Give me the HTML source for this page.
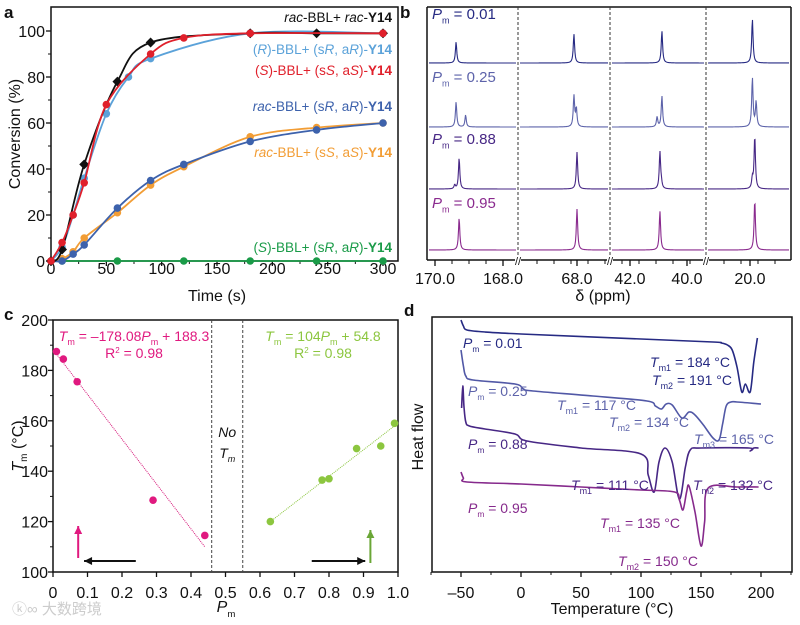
<!DOCTYPE html>
<html><head><meta charset="utf-8"><style>
body{margin:0;background:#fff}
svg{display:block;font-family:"Liberation Sans",Arial,sans-serif}
</style></head><body>
<svg id="fig" width="800" height="625" viewBox="0 0 800 625" xmlns="http://www.w3.org/2000/svg">
<g id="ga"></g>
<g id="gb"></g>
<g id="gc"></g>
<g id="gd"></g>
</svg>
<script>
// ---------- Panel a data ----------
const aTimes = {
  black:[0,10,30,60,90,180,240,300],
  lblue:[0,10,20,30,50,70,90,180,300],
  red:[0,10,20,30,50,90,120,180,300],
  blue:[0,10,20,30,60,90,120,180,240,300],
  orange:[0,10,20,30,60,90,120,180,240,300],
  green:[0,10,60,120,180,240,300]
};
const aBlack=[0,5,42,78,95,99,99,99];
const aLblue=[0,6,20,36,64,80,88,99,99];
const aRed=[0,8,20,34,68,90,97,99,99];
const aBlue=[0,0,3,7,23,35,42,52,57,60];
const aOrange=[0,1,4,10,21,33,41,54,58,60];
const aGreen=[0,0,0,0,0,0,0];
const aXTicks=[0,50,100,150,200,250,300];
const aYTicks=[0,20,40,60,80,100];
// ---------- Panel b data ----------
const bLabels=["P_m = 0.01","P_m = 0.25","P_m = 0.88","P_m = 0.95"];
const bPeakPpm=[[169.38,68.09,40.88,19.93],[169.38,68.09,40.88,19.93],[169.29,68.0,40.95,19.86],[169.29,68.0,40.95,19.86]];
const bPeakH=[[21,29,32,44],[25,31,31,49],[31,37,37,53],[32,41,39,50]];
const bShoulderPpm=[[],[169.1,68.02,41.05,19.82],[169.42,null,40.9,19.93],[]];
const bShoulderH=[[],[12,18,10,25],[4,0,5,10],[]];
const bTickLabels=["170.0","168.0","68.0","42.0","40.0","20.0"];
const bTickPpm=[[0,170.0],[0,168.0],[1,68.0],[2,42.0],[2,40.0],[3,20.0]];
// ---------- Panel c data ----------
const cPinkX=[0.01,0.03,0.07,0.29,0.44];
const cPinkY=[187.5,184.5,175.5,128.5,114.5];
const cGreenX=[0.63,0.78,0.80,0.88,0.95,0.99];
const cGreenY=[120,136.5,137,149,150,159];
const cPinkFitX=[0.01,0.44], cPinkFitY=[186.5,110];
const cGreenFitX=[0.63,0.99], cGreenFitY=[120,158];
const cXTicks=[0,0.1,0.2,0.3,0.4,0.5,0.6,0.7,0.8,0.9,1.0];
const cYTicks=[100,120,140,160,180,200];
// ---------- Panel d data (heat flow, arbitrary units, up = larger) ----------
const dT1=[-50,-48,-45,-30,0,100,160,167,172,176,180,184,187,191,194,197];
const dH1=[252,246,242,240,238,233,230,229,227,222,205,180,188,180,210,234];
const dT2=[-50,-48,-46,-40,-5,2,10,60,105,112,117,121,126,134,140,145,152,160,165,168,171,175,180,200];
const dH2=[222,206,196,192,188,183,181,176,171,166,163,168,167,154,160,157,147,134,132,148,166,170,170,168];
const dT3=[-49.5,-48.5,-47.5,-46,-43,-30,-5,5,50,100,106,111,115,120,126,132,137,141,150,190,191,194,198];
const dH3=[164,186,165,150,146,143,138,131,124,118,97,80,110,124,110,73,105,122,124,124,121,124,124];
const dT4=[-50,-48,-45,0,50,100,128,132,135,138,140,145,150,153,156,180,198];
const dH4=[100,94,90,88,85,82,80,72,62,80,86,60,26,50,84,85,85];
const dXTicks=[-50,0,50,100,150,200];
const dCurveColors=["#262a83","#5158a6","#472785","#862a8c"];

const NS="http://www.w3.org/2000/svg";
function mk(parent,tag,attrs,name,txt){
  const e=document.createElementNS(NS,tag);
  for(const k in attrs)e.setAttribute(k,attrs[k]);
  
  
  if(txt!==undefined)e.textContent=txt;
  parent.appendChild(e);return e;
}
function smooth(pts){
  let d="M"+pts[0][0].toFixed(1)+","+pts[0][1].toFixed(1);
  for(let i=0;i<pts.length-1;i++){
    const p0=pts[Math.max(0,i-1)],p1=pts[i],p2=pts[i+1],p3=pts[Math.min(pts.length-1,i+2)];
    const c1=[p1[0]+(p2[0]-p0[0])/6,p1[1]+(p2[1]-p0[1])/6];
    const c2=[p2[0]-(p3[0]-p1[0])/6,p2[1]-(p3[1]-p1[1])/6];
    d+="C"+c1[0].toFixed(1)+","+c1[1].toFixed(1)+" "+c2[0].toFixed(1)+","+c2[1].toFixed(1)+" "+p2[0].toFixed(1)+","+p2[1].toFixed(1);
  }
  return d;
}
function pmText(parent,x,y,txt,color,size,name,anchor){
  const t=mk(parent,'text',{x:x,y:y,fill:color,'font-size':size,'text-anchor':anchor||'start'},name);
  const parts=txt.split("_");
  const s1=document.createElementNS(NS,'tspan');s1.setAttribute('font-style','italic');s1.textContent=parts[0];t.appendChild(s1);
  const m=parts[1].match(/^(\S+)(.*)$/);
  const s2=document.createElementNS(NS,'tspan');s2.setAttribute('font-size',size*0.6);s2.setAttribute('dy',size*0.3);s2.textContent=m[1];t.appendChild(s2);
  const s3=document.createElementNS(NS,'tspan');s3.setAttribute('dy',-size*0.3);s3.textContent=m[2];t.appendChild(s3);
  return t;
}

// ================= Panel a =================
(function(){
  const g=document.getElementById('ga');
  const L=51,R=398,T=7,B=261;
  const xs=v=>L+v*(383-L)/300, ys=v=>B-v*(B-31)/100;
  mk(g,'rect',{x:L,y:T,width:R-L,height:B-T,fill:'none',stroke:'#111','stroke-width':1.5},'plot-frame-a');
  mk(g,'text',{x:4,y:18,'font-size':17,'font-weight':'bold',fill:'#111'},'panel-label-a','a');
  aXTicks.forEach(v=>{mk(g,'line',{x1:xs(v),x2:xs(v),y1:B,y2:B+5,stroke:'#111','stroke-width':1.3},'x-tick-a');
    mk(g,'text',{x:xs(v),y:274,'text-anchor':'middle','font-size':16,fill:'#111'},'x-tick-label-a',String(v));});
  aXTicks.slice(0,-1).forEach(v=>mk(g,'line',{x1:xs(v+25),x2:xs(v+25),y1:B,y2:B+3,stroke:'#111','stroke-width':1},'x-minor-tick-a'));
  aYTicks.forEach(v=>{mk(g,'line',{x1:L-5,x2:L,y1:ys(v),y2:ys(v),stroke:'#111','stroke-width':1.3},'y-tick-a');
    mk(g,'text',{x:45,y:ys(v)+6,'text-anchor':'end','font-size':16,fill:'#111'},'y-tick-label-a',String(v));});
  aYTicks.slice(0,-1).forEach(v=>mk(g,'line',{x1:L-3,x2:L,y1:ys(v+10),y2:ys(v+10),stroke:'#111','stroke-width':1},'y-minor-tick-a'));
  mk(g,'text',{x:217,y:301,'text-anchor':'middle','font-size':16,fill:'#111'},'x-axis-title-a','Time (s)');
  mk(g,'text',{x:20,y:134,'text-anchor':'middle','font-size':16,fill:'#111',transform:'rotate(-90 20 134)'},'y-axis-title-a','Conversion (%)');
  const series=[
    ['green',aTimes.green,aGreen,'#1a9b48','circle'],
    ['orange',aTimes.orange,aOrange,'#f29d35','circle'],
    ['blue',aTimes.blue,aBlue,'#3d62ac','circle'],
    ['lblue',aTimes.lblue,aLblue,'#5ba2d9','circle'],
    ['black',aTimes.black,aBlack,'#111111','diamond'],
    ['red',aTimes.red,aRed,'#e0202b','circle']];
  series.forEach(s=>{
    const pts=s[1].map((t,i)=>[xs(t),ys(s[2][i])]);
    mk(g,'path',{d:smooth(pts),fill:'none',stroke:s[3],'stroke-width':1.8},'line-'+s[0]);
    pts.forEach(p=>{
      if(s[4]==='diamond') mk(g,'rect',{x:p[0]-3.5,y:p[1]-3.5,width:7,height:7,fill:s[3],transform:'rotate(45 '+p[0]+' '+p[1]+')'},'point-'+s[0]);
      else mk(g,'circle',{cx:p[0],cy:p[1],r:3.8,fill:s[3]},'point-'+s[0]);
    });
  });
  const leg=[[22,'#111',[['rac',1,0],['-BBL+ ',0,0],['rac',1,0],['-',0,0],['Y14',0,1]]],
    [54,'#5ba2d9',[['(',0,0],['R',1,0],[')-BBL+ (s',0,0],['R',1,0],[', a',0,0],['R',1,0],[')-',0,0],['Y14',0,1]]],
    [75,'#e0202b',[['(',0,0],['S',1,0],[')-BBL+ (s',0,0],['S',1,0],[', a',0,0],['S',1,0],[')-',0,0],['Y14',0,1]]],
    [111,'#3d62ac',[['rac',1,0],['-BBL+ (s',0,0],['R',1,0],[', a',0,0],['R',1,0],[')-',0,0],['Y14',0,1]]],
    [157,'#f29d35',[['rac',1,0],['-BBL+ (s',0,0],['S',1,0],[', a',0,0],['S',1,0],[')-',0,0],['Y14',0,1]]],
    [252,'#1a9b48',[['(',0,0],['S',1,0],[')-BBL+ (s',0,0],['R',1,0],[', a',0,0],['R',1,0],[')-',0,0],['Y14',0,1]]]];
  leg.forEach(l=>{
    const t=mk(g,'text',{x:392,y:l[0],'text-anchor':'end','font-size':13.5,fill:l[1]},'legend-entry-a');
    l[2].forEach(p=>{const s=document.createElementNS(NS,'tspan');if(p[1])s.setAttribute('font-style','italic');if(p[2])s.setAttribute('font-weight','bold');s.textContent=p[0];t.appendChild(s);});
  });
})();

// ================= Panel b =================
(function(){
  const g=document.getElementById('gb');
  const L=427,R=791,T=7,B=260;
  const segs=[[427,518,435,170.0,34],[518,610,577,68.0,34],[610,706,630,42.0,28.5],[706,791,750,20.0,34]];
  const xp=(s,ppm)=>segs[s][2]+(segs[s][3]-ppm)*segs[s][4];
  mk(g,'line',{x1:L,x2:L,y1:T,y2:B,stroke:'#111','stroke-width':1.5},'left-axis-b');
  mk(g,'line',{x1:R,x2:R,y1:T,y2:B,stroke:'#111','stroke-width':1.5},'right-axis-b');
  mk(g,'line',{x1:L,x2:R,y1:T,y2:T,stroke:'#111','stroke-width':1.5},'top-axis-b');
  mk(g,'line',{x1:L,x2:R,y1:B,y2:B,stroke:'#111','stroke-width':1.5},'bottom-axis-b');
  mk(g,'text',{x:400,y:18,'font-size':17,'font-weight':'bold',fill:'#111'},'panel-label-b','b');
  [518,610,706].forEach(x=>{
    mk(g,'line',{x1:x,x2:x,y1:T,y2:B,stroke:'#333','stroke-width':1,'stroke-dasharray':'3,2'},'axis-break-line');
    mk(g,'rect',{x:x-3,y:B-3,width:6,height:7,fill:'#fff'},'axis-break-gap');
    mk(g,'text',{x:x,y:B+5,'text-anchor':'middle','font-size':11,fill:'#111'},'axis-break-mark','//');
  });
  for(let x=435;x<=785;x+=17){
    let inGap=[518,610,706].some(b=>Math.abs(x-b)<5);
    if(!inGap) mk(g,'line',{x1:x,x2:x,y1:B,y2:B+4,stroke:'#111','stroke-width':1},'x-minor-tick-b');
  }
  bTickPpm.forEach((tp,i)=>{const x=xp(tp[0],tp[1]);
    mk(g,'line',{x1:x,x2:x,y1:B,y2:B+6,stroke:'#111','stroke-width':1.3},'x-tick-b');
    mk(g,'text',{x:x,y:284,'text-anchor':'middle','font-size':16,fill:'#111'},'x-tick-label-b',bTickLabels[i]);});
  mk(g,'text',{x:603,y:301,'text-anchor':'middle','font-size':16,fill:'#111'},'x-axis-title-b','δ (ppm)');
  const base=[63,127,189,250], cols=["#262a83","#5d63aa","#472785","#8a2a8e"], lblY=[19,82,144,208];
  base.forEach((b,ti)=>{
    pmText(g,432,lblY[ti],bLabels[ti],cols[ti],15,'trace-label-b');
    for(let s=0;s<4;s++){
      let d="";
      for(let x=segs[s][0]+2;x<=segs[s][1]-2;x+=0.5){
        let y=b;
        const pk=[[bPeakPpm[ti][s],bPeakH[ti][s]]];
        if(bShoulderPpm[ti][s]!=null&&bShoulderPpm[ti].length) pk.push([bShoulderPpm[ti][s],bShoulderH[ti][s]]);
        pk.forEach(p=>{const dx=x-xp(s,p[0]);y-=p[1]/(1+(dx/0.8)*(dx/0.8));});
        d+=(d?"L":"M")+x.toFixed(1)+","+y.toFixed(2);
      }
      mk(g,'path',{d:d,fill:'none',stroke:cols[ti],'stroke-width':1.1},'nmr-trace');
    }
  });
})();

// ================= Panel c =================
(function(){
  const g=document.getElementById('gc');
  const L=53,R=398,T=320,B=572;
  const xs=v=>L+v*(R-L), ys=v=>B-(v-100)*(B-T)/100;
  mk(g,'rect',{x:L,y:T,width:R-L,height:B-T,fill:'none',stroke:'#111','stroke-width':1.5},'plot-frame-c');
  mk(g,'text',{x:4,y:320,'font-size':17,'font-weight':'bold',fill:'#111'},'panel-label-c','c');
  cXTicks.forEach(v=>{mk(g,'line',{x1:xs(v),x2:xs(v),y1:B,y2:B+5,stroke:'#111','stroke-width':1.3},'x-tick-c');
    mk(g,'text',{x:xs(v),y:598,'text-anchor':'middle','font-size':16,fill:'#111'},'x-tick-label-c',v===0?'0':v.toFixed(1));});
  cYTicks.forEach(v=>{mk(g,'line',{x1:L-5,x2:L,y1:ys(v),y2:ys(v),stroke:'#111','stroke-width':1.3},'y-tick-c');
    mk(g,'text',{x:48,y:ys(v)+6,'text-anchor':'end','font-size':16,fill:'#111'},'y-tick-label-c',String(v));});
  cYTicks.slice(0,-1).forEach(v=>mk(g,'line',{x1:L-3,x2:L,y1:ys(v+10),y2:ys(v+10),stroke:'#111','stroke-width':1},'y-minor-tick-c'));
  pmText(g,226,612,"P_m ",'#111',16,'x-axis-title-c','middle');
  const yt=mk(g,'text',{x:23,y:446,'text-anchor':'middle','font-size':16,fill:'#111',transform:'rotate(-90 23 446)'},'y-axis-title-c');
  yt.innerHTML='<tspan font-style="italic">T</tspan><tspan font-size="10" dy="4">m</tspan><tspan dy="-4"> (°C)</tspan>';
  [0.46,0.55].forEach(v=>mk(g,'line',{x1:xs(v),x2:xs(v),y1:T,y2:B,stroke:'#444','stroke-width':1,'stroke-dasharray':'3,2'},'no-tm-boundary'));
  mk(g,'text',{x:xs(0.505),y:437,'text-anchor':'middle','font-size':14,fill:'#111','font-style':'italic'},'no-tm-label','No');
  const nt2=mk(g,'text',{x:xs(0.505),y:458,'text-anchor':'middle','font-size':14,fill:'#111'},'no-tm-label');
  nt2.innerHTML='<tspan font-style="italic">T</tspan><tspan font-size="9" dy="4" font-style="italic">m</tspan>';
  mk(g,'line',{x1:xs(cPinkFitX[0]),y1:ys(cPinkFitY[0]),x2:xs(cPinkFitX[1]),y2:ys(cPinkFitY[1]),stroke:'#d6187a','stroke-width':1,'stroke-dasharray':'1,1'},'fit-line-pink');
  mk(g,'line',{x1:xs(cGreenFitX[0]),y1:ys(cGreenFitY[0]),x2:xs(cGreenFitX[1]),y2:ys(cGreenFitY[1]),stroke:'#8cc63f','stroke-width':1,'stroke-dasharray':'1,1'},'fit-line-green');
  cPinkX.forEach((x,i)=>mk(g,'circle',{cx:xs(x),cy:ys(cPinkY[i]),r:3.8,fill:'#e0197f'},'point-pink'));
  cGreenX.forEach((x,i)=>mk(g,'circle',{cx:xs(x),cy:ys(cGreenY[i]),r:3.8,fill:'#8cc63f'},'point-green'));
  const e1=mk(g,'text',{x:134,y:341,'text-anchor':'middle','font-size':14,fill:'#e0197f'},'equation-pink');
  e1.innerHTML='<tspan font-style="italic">T</tspan><tspan font-size="9" dy="4">m</tspan><tspan dy="-4"> = –178.08</tspan><tspan font-style="italic">P</tspan><tspan font-size="9" dy="4">m</tspan><tspan dy="-4"> + 188.3</tspan>';
  const e2=mk(g,'text',{x:134,y:358,'text-anchor':'middle','font-size':14,fill:'#e0197f'},'r2-pink');
  e2.innerHTML='R<tspan font-size="8" dy="-5">2</tspan><tspan dy="5"> = 0.98</tspan>';
  const e3=mk(g,'text',{x:323,y:341,'text-anchor':'middle','font-size':14,fill:'#8cc63f'},'equation-green');
  e3.innerHTML='<tspan font-style="italic">T</tspan><tspan font-size="9" dy="4">m</tspan><tspan dy="-4"> = 104</tspan><tspan font-style="italic">P</tspan><tspan font-size="9" dy="4">m</tspan><tspan dy="-4"> + 54.8</tspan>';
  const e4=mk(g,'text',{x:323,y:358,'text-anchor':'middle','font-size':14,fill:'#8cc63f'},'r2-green');
  e4.innerHTML='R<tspan font-size="8" dy="-5">2</tspan><tspan dy="5"> = 0.98</tspan>';
  function arrow(x1,y1,x2,y2,c,name){
    mk(g,'line',{x1:x1,y1:y1,x2:x2,y2:y2,stroke:c,'stroke-width':2},name);
    const a=Math.atan2(y2-y1,x2-x1),h=8,w=4;
    const p=[[x2,y2],[x2-h*Math.cos(a)+w*Math.sin(a),y2-h*Math.sin(a)-w*Math.cos(a)],[x2-h*Math.cos(a)-w*Math.sin(a),y2-h*Math.sin(a)+w*Math.cos(a)]];
    mk(g,'polygon',{points:p.map(q=>q.join(',')).join(' '),fill:c},name+'-head');
  }
  arrow(xs(0.073),558,xs(0.073),526,'#e0197f','arrow-pink');
  arrow(xs(0.24),561,xs(0.09),561,'#111','arrow-left');
  arrow(xs(0.75),561,xs(0.905),561,'#111','arrow-right');
  arrow(xs(0.92),563,xs(0.92),530,'#6aa636','arrow-green');
  mk(g,'text',{x:12,y:614,'font-size':15,fill:'#ccc'},'watermark','ⓚ∞ 大数跨境').setAttribute('font-family','"Liberation Sans","Noto Sans CJK SC",sans-serif');
})();

// ================= Panel d =================
(function(){
  const g=document.getElementById('gd');
  const L=432,R=792,T=317,B=572;
  const xs=v=>461+(v+50)*1.2, ys=v=>572-v;
  mk(g,'rect',{x:L,y:T,width:R-L,height:B-T,fill:'none',stroke:'#111','stroke-width':1.5},'plot-frame-d');
  mk(g,'text',{x:404,y:316,'font-size':17,'font-weight':'bold',fill:'#111'},'panel-label-d','d');
  dXTicks.forEach(v=>{mk(g,'line',{x1:xs(v),x2:xs(v),y1:B,y2:B+5,stroke:'#111','stroke-width':1.3},'x-tick-d');
    mk(g,'text',{x:xs(v),y:598,'text-anchor':'middle','font-size':16,fill:'#111'},'x-tick-label-d',v<0?'–'+(-v):String(v));});
  [-75,-25,25,75,125,175,225].forEach(v=>mk(g,'line',{x1:xs(v),x2:xs(v),y1:B,y2:B+3,stroke:'#111','stroke-width':1},'x-minor-tick-d'));
  mk(g,'text',{x:612,y:614,'text-anchor':'middle','font-size':16,fill:'#111'},'x-axis-title-d','Temperature (°C)');
  mk(g,'text',{x:423,y:437,'text-anchor':'middle','font-size':16,fill:'#111',transform:'rotate(-90 423 437)'},'y-axis-title-d','Heat flow');
  [[dT1,dH1],[dT2,dH2],[dT3,dH3],[dT4,dH4]].forEach((c,i)=>{
    const pts=c[0].map((t,j)=>[xs(t),ys(c[1][j])]);
    mk(g,'path',{d:smooth(pts),fill:'none',stroke:dCurveColors[i],'stroke-width':1.6},'dsc-curve');
  });
  pmText(g,463,348,"P_m = 0.01",dCurveColors[0],14,'dsc-label');
  pmText(g,468,396,"P_m = 0.25",'#5d63aa',14,'dsc-label');
  pmText(g,468,449,"P_m = 0.88",dCurveColors[2],14,'dsc-label');
  pmText(g,468,513,"P_m = 0.95",dCurveColors[3],14,'dsc-label');
  const ann=[[650,367,'1','184',dCurveColors[0]],[652,385,'2','191',dCurveColors[0]],[557,410,'1','117','#5d63aa'],[609,427,'2','134','#5d63aa'],[694,444,'3','165','#5d63aa'],[571,490,'1','111',dCurveColors[2]],[693,490,'2','132',dCurveColors[2]],[600,528,'1','135',dCurveColors[3]],[618,566,'2','150',dCurveColors[3]]];
  ann.forEach(a=>{
    const t=mk(g,'text',{x:a[0],y:a[1],'font-size':14,fill:a[4]},'tm-annotation');
    t.innerHTML='<tspan font-style="italic">T</tspan><tspan font-size="9" dy="4">m'+a[2]+'</tspan><tspan dy="-4"> = '+a[3]+' °C</tspan>';
  });
})();
</script>
</body></html>
